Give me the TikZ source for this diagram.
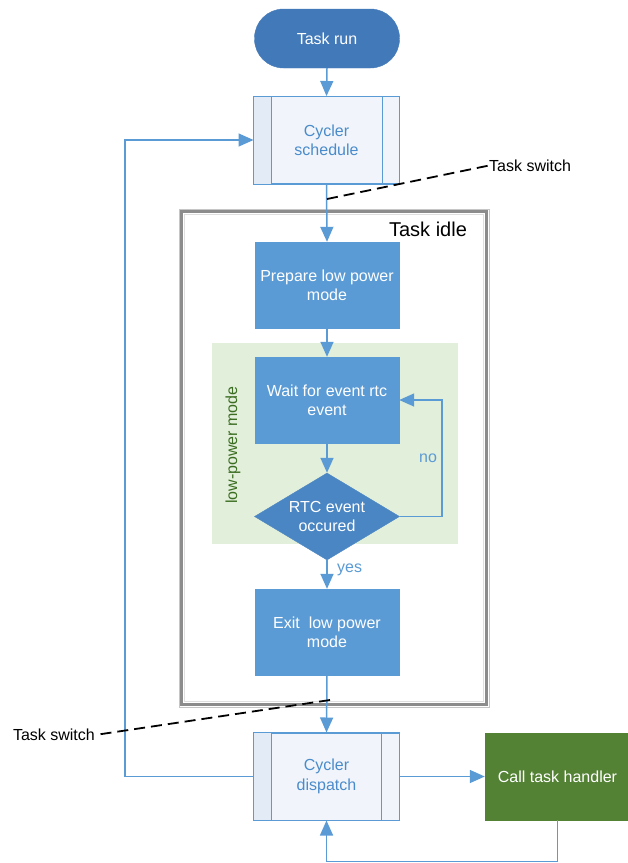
\documentclass[tikz,border=0pt]{standalone}
\usepackage{fontspec}
\setmainfont{Liberation Sans}
\usetikzlibrary{arrows.meta,shapes.geometric,calc}
\definecolor{bmain}{HTML}{5B9BD5}
\definecolor{bdark}{HTML}{4279B9}
\definecolor{bdia}{HTML}{4A86C4}
\definecolor{gfill}{HTML}{E2EFDA}
\definecolor{gtext}{HTML}{3B6E22}
\definecolor{gbox}{HTML}{548235}
\definecolor{cfill}{HTML}{F1F5FB}
\definecolor{cstrip}{HTML}{E3EBF6}
\definecolor{ctext}{HTML}{4A8BCB}
\tikzset{
  base/.style={font=\fontsize{16}{19.3}\selectfont, align=center, inner sep=0pt},
  procbox/.style={base, rectangle, fill=bmain, draw=bmain, text=white, minimum width=144pt, minimum height=86pt},
  cyclerbox/.style={base, rectangle, fill=cfill, draw=bmain, line width=1pt, text=ctext, minimum width=145pt, minimum height=87pt},
  arr/.style={draw=bmain, line width=1.5pt, -{Triangle[width=13pt,length=15pt]}},
  tsw/.style={draw=black, line width=1.8pt, dash pattern=on 11pt off 6pt},
  lbl/.style={font=\fontsize{16}{19}\selectfont, inner sep=0pt},
  cline/.style={draw=bmain, line width=1pt}
}
\begin{document}
\begin{tikzpicture}[x=1pt,y=-1pt]
\useasboundingbox (0,0) rectangle (628,863);
\clip (0,0) rectangle (628,863);

% Task idle frame
\draw[gray!45, line width=1pt, fill=white] (179,209) rectangle (489,707);
\draw[gray!90, line width=3.2pt] (181.8,211.8) rectangle (486.2,704.2);
\draw[gray!25, line width=1pt] (184.8,214.8) rectangle (483.2,701.2);
\node[font=\fontsize{20}{22}\selectfont, inner sep=0pt] (idle) at (428,229) {Task idle};

% low-power region
\fill[gfill] (212,343) rectangle (458,544);
\node[lbl, text=gtext, rotate=90] (lpm) at (233,445) {low-power mode};

% Nodes
\node[base, rectangle, rounded corners=29pt, fill=bdark, draw=bdark, text=white, minimum width=145pt, minimum height=59pt] (run) at (327,38.5) {Task run};
\node[cyclerbox] (cs) at (326.5,140) {Cycler\\schedule};
\fill[cstrip] (cs.north west) rectangle ($(cs.south west)+(18,0)$);
\draw[cline] (cs.north west) rectangle (cs.south east);
\draw[cline] ($(cs.north west)+(18,0)$) -- ($(cs.south west)+(18,0)$);
\draw[cline] ($(cs.north east)+(-17,0)$) -- ($(cs.south east)+(-17,0)$);

\node[procbox] (prep) at (327,285) {Prepare low power\\mode};
\node[procbox] (wait) at (327,400) {Wait for event rtc\\event};
\node[base, diamond, fill=bdia, draw=bdia, text=white, minimum width=145pt, minimum height=87pt, shape aspect=1.667] (dia) at (327,516.5) {RTC event\\occured};
\node[procbox] (exit) at (327,632) {Exit\ \ low power\\mode};

\node[cyclerbox] (cd) at (326.5,776.5) {Cycler\\dispatch};
\fill[cstrip] (cd.north west) rectangle ($(cd.south west)+(18,0)$);
\draw[cline] (cd.north west) rectangle (cd.south east);
\draw[cline] ($(cd.north west)+(18,0)$) -- ($(cd.south west)+(18,0)$);
\draw[cline] ($(cd.north east)+(-18,0)$) -- ($(cd.south east)+(-18,0)$);
\node[base, rectangle, fill=gbox, draw=gbox, text=white, minimum width=145pt, minimum height=87pt] (cth) at (557.5,776.5) {Call task handler};

% Connectors
\draw[arr] (run.south) -- (cs.north);
\draw[arr] (cs.south) -- (prep.north);
\draw[arr] (prep.south) -- (wait.north);
\draw[arr] (wait.south) -- (dia.north);
\coordinate (nox) at (442,0);
\draw[arr] (dia.east) -- (dia.east -| nox) |- (wait.east);
\node[lbl, text=bmain] (no) at (428,458) {no};
\draw[arr] (dia.south) -- (exit.north);
\node[lbl, text=bmain, anchor=west] (yes) at (337,570) {yes};
\draw[arr] (exit.south) -- (cd.north);
\draw[arr] (cd.east) -- (cth.west);
\coordinate (bot) at (0,861.5);
\draw[arr] (cth.south) -- (cth.south |- bot) -| (cd.south);
\coordinate (lx) at (125,0);
\draw[arr] (cd.west) -- (cd.west -| lx) |- (cs.west);

% Task switch markers
\node[lbl, anchor=west] (ts1) at (489,165.5) {Task switch};
\coordinate (d1) at (327,199);
\draw[tsw] (d1) -- (ts1.west);
\node[lbl, anchor=east] (ts2) at (95,735) {Task switch};
\coordinate (d2) at (330,700);
\draw[tsw] (d2) -- (ts2.east);
\end{tikzpicture}
\end{document}
